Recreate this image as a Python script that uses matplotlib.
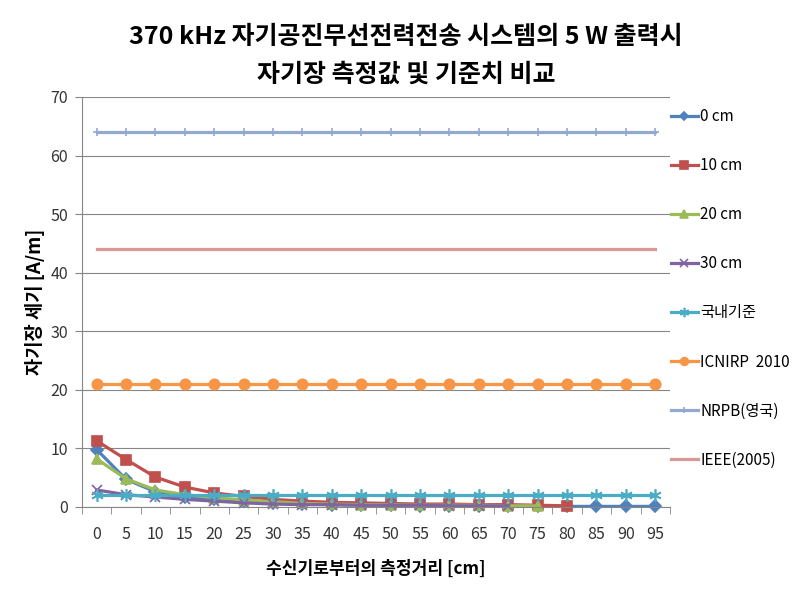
# 370 kHz 자기공진 무선전력전송 - 자기장 측정값 및 기준치 비교

import matplotlib.pyplot as plt

plt.rcParams['font.family'] = ['Noto Sans CJK KR', 'DejaVu Sans']

# --------------------------------------------------
# Data (A/m)
# --------------------------------------------------
distance_labels = ['0', '5', '10', '15', '20', '25', '30', '35', '40', '45',
                   '50', '55', '60', '65', '70', '75', '80', '85', '90', '95']

field_0cm = [9.8, 4.7, 2.6, 1.7, 1.3, 1.0, 0.7, 0.5, 0.4, 0.3,
             0.3, 0.2, 0.2, 0.2, 0.1, 0.1, 0.1, 0.1, 0.1, 0.1]
field_10cm = [11.3, 8.1, 5.1, 3.4, 2.4, 1.8, 1.3, 1.0, 0.8, 0.7,
              0.6, 0.5, 0.5, 0.4, 0.4, 0.3, 0.2]
field_20cm = [8.2, 4.8, 2.9, 2.1, 1.6, 1.2, 0.9, 0.6, 0.5, 0.4,
              0.4, 0.3, 0.3, 0.3, 0.2, 0.2]
field_30cm = [2.9, 2.1, 1.7, 1.3, 1.0, 0.7, 0.5, 0.4, 0.4, 0.3,
              0.3, 0.3, 0.2, 0.2, 0.2]

limit_korea = [2.0] * 20
limit_icnirp = [21] * 20
limit_nrpb = [64] * 20
limit_ieee = [44] * 20

series = [
    ("0 cm", field_0cm, "#4F81BD", "D", 6),
    ("10 cm", field_10cm, "#C0504D", "s", 7.5),
    ("20 cm", field_20cm, "#9BBB59", "^", 7.5),
    ("30 cm", field_30cm, "#8064A2", "x", 7.5),
    ("국내기준", limit_korea, "#4BACC6", (6, 2, 0), 9),
    ("ICNIRP  2010", limit_icnirp, "#F79646", "o", 7.5),
    ("NRPB(영국)", limit_nrpb, "#94A9D2", "+", 6),
    ("IEEE(2005)", limit_ieee, "#D99795", None, 0),
]

# --------------------------------------------------
# Plot
# --------------------------------------------------
fig = plt.figure(figsize=(8.12, 5.90), dpi=100)
ax = fig.add_axes([0.101, 0.1407, 0.724, 0.6949])

handles = []
for name, values, color, marker, msize in series:
    line, = ax.plot(range(len(values)), values, color=color, lw=2.3,
                    marker=marker, markersize=msize, markeredgewidth=1.2,
                    label=name, clip_on=False)
    handles.append(line)

ax.set_xlim(-0.5, 19.5)
ax.set_ylim(0, 70)
ax.set_yticks(range(0, 71, 10))
ax.set_xticks(range(20))
ax.set_xticklabels(distance_labels)
ax.set_xticks([i - 0.5 for i in range(21)], minor=True)
ax.tick_params(axis='x', which='major', length=0, pad=14, labelsize=11.5)
ax.tick_params(axis='x', which='minor', length=5, color='#868686')
ax.tick_params(axis='y', length=5, color='#868686', labelsize=11.5, pad=5)
for lbl in ax.get_xticklabels() + ax.get_yticklabels():
    lbl.set_color('#333333')

ax.grid(True, axis='y', color='#868686', lw=0.8)
ax.set_axisbelow(True)
for side in ['top', 'right']:
    ax.spines[side].set_visible(False)
for side in ['left', 'bottom']:
    ax.spines[side].set_color('#868686')

ax.set_xlabel("수신기로부터의 측정거리 [cm]", fontsize=12.3, fontweight='bold', labelpad=12)
ax.set_ylabel("자기장 세기 [A/m]", fontsize=13.5, fontweight='bold', labelpad=4)

fig.text(0.5, 0.937, "370 kHz 자기공진무선전력전송 시스템의 5 W 출력시",
         ha='center', va='center', fontsize=18, fontweight='bold')
fig.text(0.5, 0.873, "자기장 측정값 및 기준치 비교",
         ha='center', va='center', fontsize=18, fontweight='bold')

fig.legend(handles=handles, loc='upper left',
           bbox_to_anchor=(665 / 812, 1 - 102 / 590),
           frameon=False, fontsize=11, labelspacing=2.1, markerscale=0.75,
           handlelength=1.75, handletextpad=0.15, borderaxespad=0)

fig.savefig("out.png", dpi=100)
